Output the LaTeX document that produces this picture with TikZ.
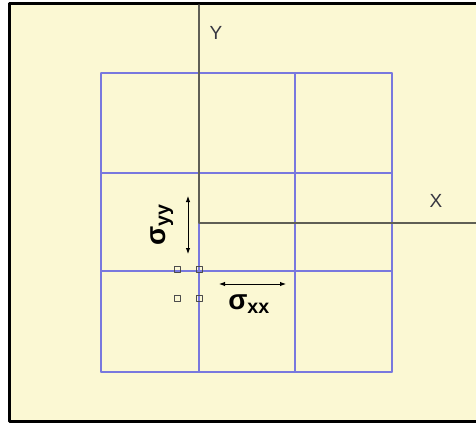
\documentclass[tikz,border=0pt]{standalone}
\usepackage{fontspec}
\setmainfont{Liberation Sans}
\usetikzlibrary{arrows.meta}
\definecolor{paper}{RGB}{251,248,211}
\definecolor{gridblue}{RGB}{120,120,222}
\definecolor{axisgray}{RGB}{95,95,85}
\definecolor{labelgray}{RGB}{55,55,65}

\begin{document}
\begin{tikzpicture}[x=1pt, y=-1pt, line join=round, line cap=round,
    >={Latex[length=6pt,width=4.5pt]},
    gridline/.style={gridblue, line width=1.3pt},
    axisline/.style={axisgray, line width=1.4pt},
    gauge/.style={draw=black!70, line width=1pt, minimum size=6pt, inner sep=0pt},
    stresslabel/.style={inner sep=0pt, font=\fontsize{28}{30}\selectfont\bfseries},
    axislabel/.style={labelgray, font=\fontsize{19}{22}\selectfont}]
      \useasboundingbox (0,0) rectangle (476,425);
      \fill[white] (0,0) rectangle (476,425);
      \fill[paper] (9.5,3.5) rectangle (476,421.5);
      \draw[line width=3pt] (476,3.5) -- (9.5,3.5) -- (9.5,421.5) -- (476,421.5);
      % grid of nine cells
      \foreach \x in {101,199,295,392}
        \draw[gridline] (\x,73) -- (\x,372);
      \foreach \y in {73,173,271,372}
        \draw[gridline] (101,\y) -- (392,\y);
      % axes
      \coordinate (O) at (199,223);
      \coordinate (T) at (199,5); \coordinate (R) at (476,223);
      \draw[axisline] (T) -- (O) -- (R);
      \node[axislabel] (Ylab) at (216,33) {Y};
      \node[axislabel] (Xlab) at (436,201) {X};
      % gauges
      \foreach \n/\x/\y in {a/177/269, b/199/269, c/177/298, d/199/298}
        \node[gauge] (g\n) at (\x,\y) {};
      % stresses
      \coordinate (xl) at (219,284); \coordinate (xr) at (286,284);
      \draw[<->, line width=0.9pt] (xl) -- (xr);
      \node[stresslabel] (sxx) at (249,304) {σ\textsubscript{xx}};
      \coordinate (yt) at (188,196); \coordinate (yb) at (188,254);
      \draw[<->, line width=0.9pt] (yt) -- (yb);
      \node[stresslabel, rotate=90] (syy) at (162,225) {σ\textsubscript{yy}};
    \end{tikzpicture}
\end{document}
